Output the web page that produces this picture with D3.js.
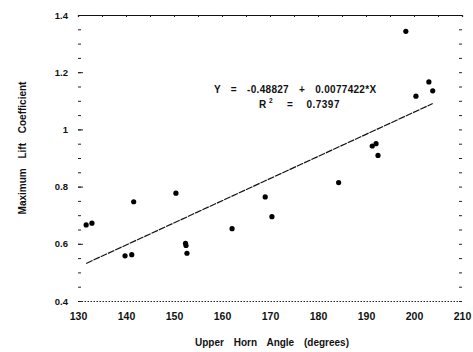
<!DOCTYPE html>
<html>
<head>
<meta charset="utf-8">
<script src="https://cdn.jsdelivr.net/npm/d3@7"></script>
<style>
  body { margin: 0; background: #fff; }
  text { font-family: "Liberation Sans", Arial, sans-serif; font-weight: bold; fill: #111; }
</style>
</head>
<body>
<div id="chart"></div>
<script>
// data
var hornAngle = [131.7, 132.9, 141.6, 139.8, 141.2, 150.4, 152.4, 152.5, 152.7, 162.1,
                 169.0, 170.4, 184.3, 191.3, 192.1, 192.5, 198.3, 200.4, 203.1, 203.9];
var maxLift   = [0.666, 0.672, 0.747, 0.558, 0.562, 0.777, 0.602, 0.594, 0.567, 0.653,
                 0.764, 0.695, 0.814, 0.942, 0.950, 0.909, 1.343, 1.116, 1.166, 1.135];
var xTicks = [130, 140, 150, 160, 170, 180, 190, 200, 210];
var yTicks = [0.4, 0.6, 0.8, 1, 1.2, 1.4];
var yTickLabels = ["0.4", "0.6", "0.8", "1", "1.2", "1.4"];
var intercept = -0.48827;
var slope = 0.0077422;
var eqText = "Y = -0.48827 + 0.0077422*X";
var r2Text = "0.7397";

var svgWidth = 473;
var svgHeight = 352;
var margin = { top: 15, right: 11, bottom: 51, left: 78 };
var width = svgWidth - margin.left - margin.right;
var height = svgHeight - margin.top - margin.bottom;

var svg = d3.select("#chart").append("svg")
  .attr("width", svgWidth)
  .attr("height", svgHeight);

var g = svg.append("g")
  .attr("transform", `translate(${margin.left}, ${margin.top})`);

var x = d3.scaleLinear().domain([130, 210]).range([0, width]);
var y = d3.scaleLinear().domain([0.4, 1.4]).range([height, 0]);

// minor tick positions every 0.05
var yMinor = d3.range(0.4, 1.4001, 0.05);

// left ticks (inward, no axis line)
var left = g.append("g")
  .call(d3.axisLeft(y).tickValues(yMinor).tickSize(-3).tickFormat(""));
left.select(".domain").remove();
left.selectAll("line").attr("stroke", "#222");
g.append("g")
  .call(d3.axisLeft(y).tickValues(yTicks).tickSize(-5).tickPadding(10)
    .tickFormat((d, i) => yTickLabels[i]))
  .call(a => a.select(".domain").remove())
  .call(a => a.selectAll("text").attr("font-size", 9.5))
  .call(a => a.selectAll("line").attr("stroke", "#222"));

// right ticks
var right = g.append("g")
  .attr("transform", `translate(${width}, 0)`)
  .call(d3.axisRight(y).tickValues(yMinor).tickSize(-3).tickFormat(""));
right.select(".domain").remove();
right.selectAll("line").attr("stroke", "#222");

// top frame
g.append("g")
  .call(d3.axisTop(x).tickValues(d3.range(130, 211, 5)).tickSize(-2).tickFormat(""))
  .call(a => a.select(".domain").attr("stroke", "#111").attr("stroke-width", 1.2))
  .call(a => a.selectAll("line").attr("stroke", "#222"));

// bottom axis, dotted
g.append("g")
  .attr("transform", `translate(0, ${height})`)
  .call(d3.axisBottom(x).tickValues(xTicks).tickSize(0).tickPadding(12))
  .call(a => a.select(".domain").attr("stroke", "#222").attr("stroke-dasharray", "1.5,1.5"))
  .call(a => a.selectAll("text").attr("font-size", 10.5));

// regression line
var xMin = d3.min(hornAngle);
var xMax = d3.max(hornAngle);
g.append("line")
  .attr("x1", x(xMin))
  .attr("y1", y(intercept + slope * xMin))
  .attr("x2", x(xMax))
  .attr("y2", y(intercept + slope * xMax))
  .attr("stroke", "#111")
  .attr("stroke-width", 1.2)
  .attr("stroke-dasharray", "7,1");

// points
g.selectAll("circle")
  .data(hornAngle)
  .enter()
  .append("circle")
  .attr("cx", (d, i) => x(d))
  .attr("cy", (d, i) => y(maxLift[i]))
  .attr("r", 2.6)
  .attr("fill", "#000");

// equation
svg.append("text")
  .attr("x", 214)
  .attr("y", 93)
  .attr("font-size", 10)
  .attr("word-spacing", 7)
  .attr("letter-spacing", 0.3)
  .text(eqText);

svg.append("text").attr("x", 259).attr("y", 108).attr("font-size", 10).text("R");
svg.append("text").attr("x", 269).attr("y", 103).attr("font-size", 6.5).text("2");
svg.append("text").attr("x", 287).attr("y", 108).attr("font-size", 10).text("=");
svg.append("text").attr("x", 340).attr("y", 108).attr("font-size", 10)
  .attr("text-anchor", "end").attr("letter-spacing", 0.5).text(r2Text);

// axis titles
svg.append("text")
  .attr("x", 272)
  .attr("y", 346)
  .attr("text-anchor", "middle")
  .attr("font-size", 10)
  .attr("word-spacing", 7)
  .text("Upper Horn Angle (degrees)");

svg.append("text")
  .attr("transform", "translate(26, 148) rotate(-90)")
  .attr("text-anchor", "middle")
  .attr("font-size", 10)
  .attr("word-spacing", 7)
  .text("Maximum Lift Coefficient");
</script>
</body>
</html>
